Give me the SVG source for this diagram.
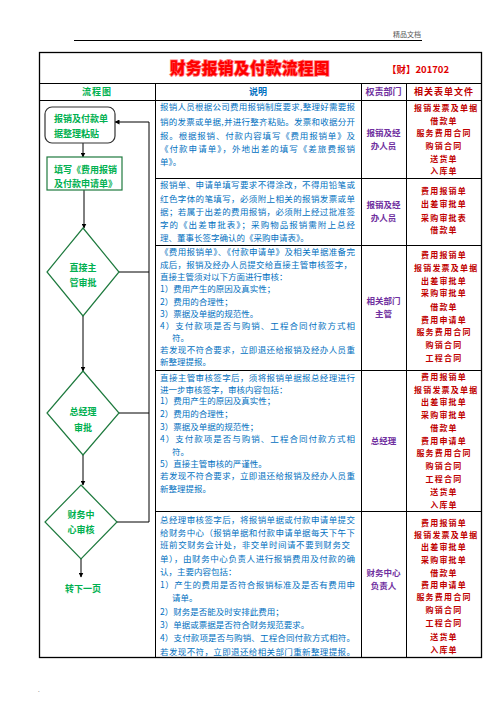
<svg xmlns="http://www.w3.org/2000/svg" width="496" height="702" viewBox="0 0 496 702">
<defs>
<marker id="arr" viewBox="0 0 10 10" refX="9" refY="5" markerWidth="5" markerHeight="5" orient="auto" markerUnits="userSpaceOnUse"><path d="M0,0 L10,5 L0,10 z" fill="#000"/></marker>
<clipPath id="c4"><rect x="406" y="100" width="75" height="560"/></clipPath>
<style>
text{font-family:"Noto Sans CJK SC","Noto Sans",sans-serif}
.grid{stroke:#000;stroke-width:1;fill:none}
.outer{stroke:#000;stroke-width:1.3;fill:none}
.d{fill:#0070C0;font-size:8.5px}
.dep{fill:#7030A0;font-size:8.5px;font-weight:bold;text-anchor:middle}
.f{fill:#C00000;font-size:8px;font-weight:bold;text-anchor:middle;letter-spacing:1.2px}
.g{fill:#00B050;font-size:9px;font-weight:bold}
.gc{fill:#00B050;font-size:9px;font-weight:bold;text-anchor:middle}
.node{fill:#fff;stroke:#1E7A3E;stroke-width:1.2}
.con{stroke:#000;stroke-width:1;fill:none}
.h{font-size:9px;font-weight:bold;text-anchor:middle}
</style>
</defs>
<rect width="496" height="702" fill="#fff"/>
<line x1="74" y1="40.5" x2="422" y2="40.5" stroke="#000" stroke-width="1"/>
<text x="421" y="37" font-size="7" fill="#555" text-anchor="end">精品文档</text>
<text x="38" y="692" font-size="6" fill="#555">.</text>

<g id="table">
<rect class="outer" x="39.5" y="52.5" width="442" height="605"/>
<line class="grid" x1="39.5" y1="83.5" x2="481.5" y2="83.5"/>
<line class="grid" x1="39.5" y1="100.5" x2="481.5" y2="100.5"/>
<line class="grid" x1="155.5" y1="83.5" x2="155.5" y2="657.5"/>
<line class="grid" x1="361.5" y1="83.5" x2="361.5" y2="657.5"/>
<line class="grid" x1="406.5" y1="83.5" x2="406.5" y2="657.5"/>
<line class="grid" x1="155.5" y1="178.5" x2="481.5" y2="178.5"/>
<line class="grid" x1="155.5" y1="245.5" x2="481.5" y2="245.5"/>
<line class="grid" x1="155.5" y1="370.5" x2="481.5" y2="370.5"/>
<line class="grid" x1="155.5" y1="511.5" x2="481.5" y2="511.5"/>
</g>

<g id="title">
<text x="250" y="74" font-size="15.5" font-weight="900" fill="#FF0000" stroke="#FF8080" stroke-width="1.6" paint-order="stroke" text-anchor="middle" letter-spacing="0.5">财务报销及付款流程图</text>
<text x="418" y="73" font-size="9.5" font-weight="bold" fill="#E00000" text-anchor="middle">【财】201702</text>
</g>

<g id="header">
<text class="h" x="97" y="95" fill="#00B050" letter-spacing="1">流程图</text>
<text class="h" x="258" y="95" fill="#0070C0">说明</text>
<text class="h" x="383.5" y="95" fill="#7030A0">权责部门</text>
<text class="h" x="444" y="95" fill="#C00000" letter-spacing="1">相关表单文件</text>
</g>

<g id="connectors">
<line class="con" x1="83" y1="143" x2="83" y2="157" marker-end="url(#arr)"/>
<line class="con" x1="84" y1="190" x2="84" y2="228" marker-end="url(#arr)"/>
<line class="con" x1="83" y1="316" x2="83" y2="371" marker-end="url(#arr)"/>
<line class="con" x1="83" y1="455" x2="83" y2="485" marker-end="url(#arr)"/>
<line class="con" x1="81" y1="559" x2="81" y2="577" marker-end="url(#arr)"/>
<polyline class="con" points="119,272 149,272"/>
<polyline class="con" points="119,413 149,413"/>
<polyline class="con" points="117,522 149,522 149,122 115,122" marker-end="url(#arr)"/>
</g>

<g id="n1">
<rect x="45" y="107" width="70" height="36" rx="7" fill="#fff" stroke="#333" stroke-width="1.2"/>
<text class="g" x="54" y="122">报销及付款单</text>
<text class="g" x="54" y="137" font-size="8">据整理粘贴</text>
</g>
<g id="n2">
<rect class="node" x="47" y="157" width="75" height="33"/>
<text class="g" x="54" y="173">填写《费用报销</text>
<text class="g" x="54" y="187">及付款申请单》</text>
</g>
<g id="n3">
<polygon class="node" points="83,228 119,272 83,316 47,272"/>
<text class="gc" x="83" y="271">直接主</text>
<text class="gc" x="83" y="286">管审批</text>
</g>
<g id="n4">
<polygon class="node" points="83,371 119,413 83,455 47,413"/>
<text class="gc" x="83" y="415">总经理</text>
<text class="gc" x="83" y="431">审批</text>
</g>
<g id="n5">
<polygon class="node" points="81,485 117,522 81,559 45,522"/>
<text class="gc" x="81" y="518">财务中</text>
<text class="gc" x="81" y="533">心审核</text>
</g>
<g id="n6">
<text class="gc" x="83" y="592">转下一页</text>
</g>

<g id="desc">
<text class="d" x="160" y="110" textLength="195" lengthAdjust="spacing">报销人员根据公司费用报销制度要求,整理好需要报</text>
<text class="d" x="160" y="125" textLength="195" lengthAdjust="spacing">销的发票或单据,并进行整齐粘贴。发票和收据分开</text>
<text class="d" x="160" y="139" textLength="195" lengthAdjust="spacing">报。根据报销、付款内容填写《费用报销单》及</text>
<text class="d" x="160" y="152" textLength="195" lengthAdjust="spacing">《付款申请单》，外地出差的填写《差旅费报销</text>
<text class="d" x="160" y="165">单》。</text>

<text class="d" x="160" y="188" textLength="195" lengthAdjust="spacing">报销单、申请单填写要求不得涂改，不得用铅笔或</text>
<text class="d" x="160" y="202" textLength="195" lengthAdjust="spacing">红色字体的笔填写，必须附上相关的报销发票或单</text>
<text class="d" x="160" y="215" textLength="195" lengthAdjust="spacing">据；若属于出差的费用报销，必须附上经过批准签</text>
<text class="d" x="160" y="228" textLength="195" lengthAdjust="spacing">字的《出差审批表》；采购物品报销需附上总经</text>
<text class="d" x="160" y="241">理、董事长签字确认的《采购申请表》。</text>

<text class="d" x="160" y="255" textLength="195" lengthAdjust="spacing">《费用报销单》、《付款申请单》及相关单据准备完</text>
<text class="d" x="160" y="268" textLength="192" lengthAdjust="spacing">成后，报销及经办人员提交给直接主管审核签字，</text>
<text class="d" x="160" y="280">直接主管须对以下方面进行审核：</text>
<text class="d" x="160" y="292">1）费用产生的原因及真实性；</text>
<text class="d" x="160" y="305">2）费用的合理性；</text>
<text class="d" x="160" y="317">3）票据及单据的规范性。</text>
<text class="d" x="160" y="329" textLength="195" lengthAdjust="spacing">4）支付款项是否与购销、工程合同付款方式相</text>
<text class="d" x="172" y="341">符。</text>
<text class="d" x="160" y="353" textLength="195" lengthAdjust="spacing">若发现不符合要求，立即退还给报销及经办人员重</text>
<text class="d" x="160" y="365">新整理提报。</text>

<text class="d" x="160" y="381" textLength="195" lengthAdjust="spacing">直接主管审核签字后，须将报销单据报总经理进行</text>
<text class="d" x="160" y="393">进一步审核签字，审核内容包括：</text>
<text class="d" x="160" y="404">1）费用产生的原因及真实性；</text>
<text class="d" x="160" y="417">2）费用的合理性；</text>
<text class="d" x="160" y="430">3）票据及单据的规范性；</text>
<text class="d" x="160" y="442" textLength="195" lengthAdjust="spacing">4）支付款项是否与购销、工程合同付款方式相</text>
<text class="d" x="172" y="455">符。</text>
<text class="d" x="160" y="467">5）直接主管审核的严谨性。</text>
<text class="d" x="160" y="479" textLength="195" lengthAdjust="spacing">若发现不符合要求，立即退还给报销及经办人员重</text>
<text class="d" x="160" y="492">新整理提报。</text>

<text class="d" x="160" y="523" textLength="195" lengthAdjust="spacing">总经理审核签字后，将报销单据或付款申请单提交</text>
<text class="d" x="160" y="536" textLength="195" lengthAdjust="spacing">给财务中心（报销单据和付款申请单据每天下午下</text>
<text class="d" x="160" y="548" textLength="190" lengthAdjust="spacing">班前交财务会计处，非交单时间请不要到财务交</text>
<text class="d" x="160" y="562" textLength="195" lengthAdjust="spacing">单），由财务中心负责人进行报销费用及付款的确</text>
<text class="d" x="160" y="575">认，主要内容包括：</text>
<text class="d" x="160" y="588" textLength="195" lengthAdjust="spacing">1）产生的费用是否符合报销标准及是否有费用申</text>
<text class="d" x="172" y="601">请单。</text>
<text class="d" x="160" y="615">2）财务是否能及时安排此费用；</text>
<text class="d" x="160" y="628">3）单据或票据是否符合财务规范要求。</text>
<text class="d" x="160" y="641" textLength="195" lengthAdjust="spacing">4）支付款项是否与购销、工程合同付款方式相符。</text>
<text class="d" x="160" y="655" textLength="195" lengthAdjust="spacing">若发现不符，立即退还给相关部门重新整理提报。</text>
</g>

<g id="dept">
<text class="dep" x="383.5" y="136">报销及经</text>
<text class="dep" x="383.5" y="149">办人员</text>
<text class="dep" x="383.5" y="208">报销及经</text>
<text class="dep" x="383.5" y="221">办人员</text>
<text class="dep" x="383.5" y="304">相关部门</text>
<text class="dep" x="383.5" y="317">主管</text>
<text class="dep" x="383.5" y="444">总经理</text>
<text class="dep" x="383.5" y="576">财务中心</text>
<text class="dep" x="383.5" y="589">负责人</text>
</g>

<g id="forms" clip-path="url(#c4)">
<text class="f" x="414" y="111" style="text-anchor:start" letter-spacing="1.8">报销发票及单据</text>
<text class="f" x="444" y="124">借款单</text>
<text class="f" x="444" y="136">服务费用合同</text>
<text class="f" x="444" y="149">购销合同</text>
<text class="f" x="444" y="162">送货单</text>
<text class="f" x="444" y="174">入库单</text>

<text class="f" x="444" y="194">费用报销单</text>
<text class="f" x="444" y="207">出差审批单</text>
<text class="f" x="444" y="221">采购审批表</text>
<text class="f" x="444" y="233">借款单</text>

<text class="f" x="444" y="258">费用报销单</text>
<text class="f" x="414" y="271" style="text-anchor:start" letter-spacing="1.8">报销发票及单据</text>
<text class="f" x="444" y="284">出差审批单</text>
<text class="f" x="444" y="296">采购审批单</text>
<text class="f" x="444" y="310">借款单</text>
<text class="f" x="444" y="323">费用申请单</text>
<text class="f" x="444" y="335">服务费用合同</text>
<text class="f" x="444" y="348">购销合同</text>
<text class="f" x="444" y="361">工程合同</text>

<text class="f" x="444" y="380">费用报销单</text>
<text class="f" x="414" y="393" style="text-anchor:start" letter-spacing="1.8">报销发票及单据</text>
<text class="f" x="444" y="405">出差审批单</text>
<text class="f" x="444" y="418">采购审批单</text>
<text class="f" x="444" y="431">借款单</text>
<text class="f" x="444" y="444">费用申请单</text>
<text class="f" x="444" y="456">服务费用合同</text>
<text class="f" x="444" y="469">购销合同</text>
<text class="f" x="444" y="482">工程合同</text>
<text class="f" x="444" y="495">送货单</text>
<text class="f" x="444" y="508">入库单</text>

<text class="f" x="444" y="526">费用报销单</text>
<text class="f" x="414" y="538" style="text-anchor:start" letter-spacing="1.8">报销发票及单据</text>
<text class="f" x="444" y="550">出差审批单</text>
<text class="f" x="444" y="563">采购审批单</text>
<text class="f" x="444" y="576">借款单</text>
<text class="f" x="444" y="588">费用申请单</text>
<text class="f" x="444" y="600">服务费用合同</text>
<text class="f" x="444" y="613">购销合同</text>
<text class="f" x="444" y="626">工程合同</text>
<text class="f" x="444" y="640">送货单</text>
<text class="f" x="444" y="653">入库单</text>
</g>
</svg>
